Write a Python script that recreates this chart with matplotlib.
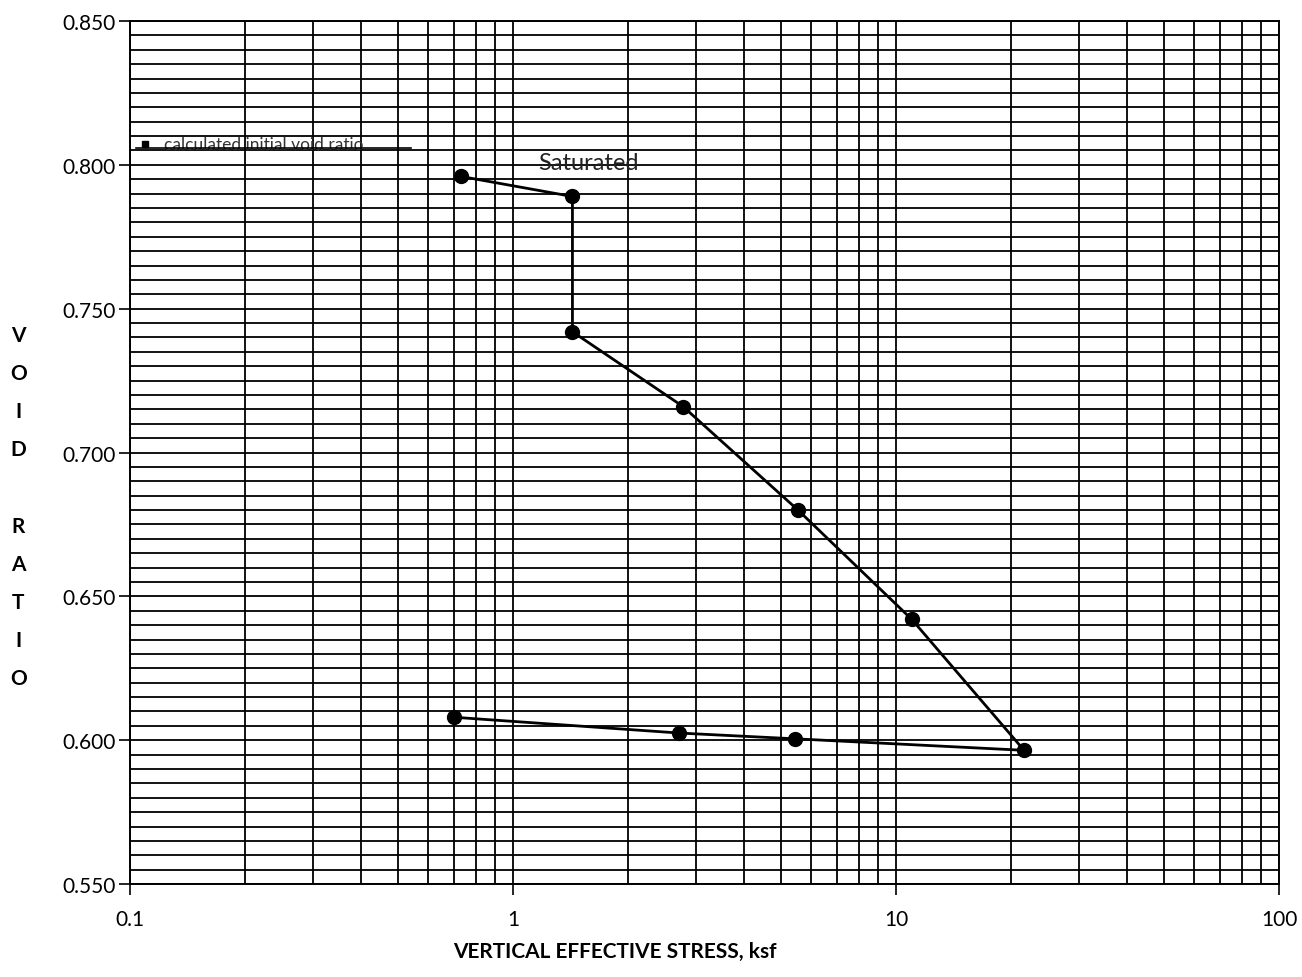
import matplotlib
matplotlib.use("Agg")
import matplotlib.pyplot as plt
from matplotlib.ticker import FixedLocator, NullFormatter, MultipleLocator

plt.rcParams['font.family'] = ['Lato', 'DejaVu Sans']

# Data (vertical effective stress in ksf, void ratio)
stress = [0.73, 1.43, 1.43, 2.78, 5.55, 11.0, 21.6, 5.45, 2.72, 0.70]
void_ratio = [0.796, 0.789, 0.742, 0.716, 0.680, 0.642, 0.5965, 0.6005, 0.6025, 0.608]

x_ticks = [0.1, 1, 10, 100]
x_tick_labels = ["0.1", "1", "10", "100"]
y_ticks = [0.550, 0.600, 0.650, 0.700, 0.750, 0.800, 0.850]
y_tick_labels = ["0.550", "0.600", "0.650", "0.700", "0.750", "0.800", "0.850"]

fig = plt.figure(figsize=(13.02, 9.78), dpi=100)
ax = fig.add_axes([0.0998, 0.095, 0.8825, 0.8825])

ax.set_xscale('log')
ax.set_xlim(0.1, 100)
ax.set_ylim(0.55, 0.85)

ax.xaxis.set_major_locator(FixedLocator(x_ticks))
ax.set_xticklabels(x_tick_labels)
minor_x = [m * d for d in (0.1, 1, 10) for m in range(2, 10)]
ax.xaxis.set_minor_locator(FixedLocator(minor_x))
ax.xaxis.set_minor_formatter(NullFormatter())

ax.set_yticks(y_ticks)
ax.set_yticklabels(y_tick_labels)
ax.yaxis.set_minor_locator(MultipleLocator(0.005))

ax.grid(which='both', axis='both', color='black', linewidth=1.3)
ax.set_axisbelow(True)

for s in ax.spines.values():
    s.set_color('black')
    s.set_linewidth(1.4)

ax.tick_params(axis='both', which='major', length=8, width=1.2, labelsize=15, colors='black')
ax.tick_params(axis='y', which='major', pad=2)
ax.tick_params(axis='x', which='major', pad=10)
ax.tick_params(axis='both', which='minor', length=0)

ax.plot(stress, void_ratio, color='black', linewidth=2, marker='o',
        markersize=10, markerfacecolor='black', markeredgecolor='black', zorder=5)

ax.text(0.399, 0.836, "Saturated", transform=ax.transAxes, fontsize=17,
        ha='center', va='center', color='#222222')

# legend-like note
ax.plot([0.013], [0.858], transform=ax.transAxes, marker='s', markersize=4,
        color='black', linestyle='none', clip_on=False, zorder=6)
ax.text(0.03, 0.858, "calculated initial void ratio", transform=ax.transAxes,
        fontsize=12.5, ha='left', va='center', color='#333333')
ax.plot([0.005, 0.245], [0.853, 0.853], transform=ax.transAxes,
        color='black', linewidth=1.2, zorder=4)

fig.text(0.472, 0.016, "VERTICAL EFFECTIVE STRESS, ksf", fontsize=15,
         fontweight='bold', ha='center', va='bottom')
fig.text(0.014, 0.481, "V\nO\nI\nD\n\nR\nA\nT\nI\nO", fontsize=15,
         fontweight='bold', ha='center', va='center', linespacing=2.13)

fig.savefig("out.png", dpi=100)
